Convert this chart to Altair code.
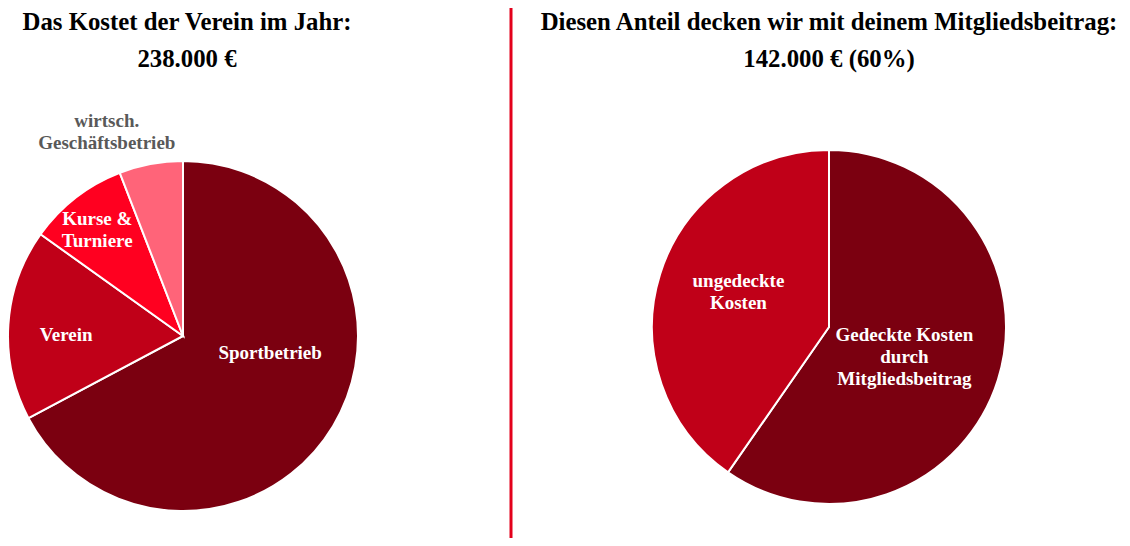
import altair as alt
import pandas as pd

# ---------------- data ----------------
left_categories = ["Sportbetrieb", "Verein", "Kurse & Turniere", "wirtsch. Geschäftsbetrieb"]
left_values = [160000, 42000, 22000, 14000]
left_labels = ["Sportbetrieb", "Verein", "Kurse &\nTurniere", "wirtsch.\nGeschäftsbetrieb"]

right_categories = ["Gedeckte Kosten", "ungedeckte Kosten"]
right_values = [142000, 96000]
right_labels = ["Gedeckte Kosten\ndurch\nMitgliedsbeitrag", "ungedeckte\nKosten"]

left_title = ["Das Kostet der Verein im Jahr:", "238.000 €"]
right_title = ["Diesen Anteil decken wir mit deinem Mitgliedsbeitrag:", "142.000 € (60%)"]

# ---------------- styles ----------------
W, H = 1114, 530
FONT = "Liberation Serif"
left_colors = ["#7B0010", "#C00018", "#FF0020", "#FF6479"]
right_colors = ["#7B0010", "#C00018"]
LCX, LCY, LR = 175, 328, 175
RCX, RCY, RR = 821, 319, 177

# label placement: radius, dx, dy, colour
left_label_style = [(90, 10, -29, "white"), (117, 0, 7, "white"),
                    (135, -3, -10, "white"), (208, -38, -11, "#595959")]
right_label_style = [(79, 0, -16, "white"), (97, 2, -17, "white")]

left_df = pd.DataFrame({"cat": left_categories, "val": left_values,
                        "label": left_labels, "idx": list(range(len(left_categories)))})
right_df = pd.DataFrame({"cat": right_categories, "val": right_values,
                         "label": right_labels, "idx": list(range(len(right_categories)))})


def pie(df, colors, cx, cy, r):
    return alt.Chart(df).mark_arc(outerRadius=r, stroke="white", strokeWidth=2).encode(
        theta=alt.Theta("val:Q", stack=True),
        color=alt.Color("cat:N", scale=alt.Scale(domain=list(df["cat"]), range=colors), legend=None),
        order=alt.Order("idx:Q"),
        x=alt.value(cx), y=alt.value(cy),
    )


def labels(df, styles, cx, cy):
    layers = []
    for i, (rad, dx, dy, col) in enumerate(styles):
        cat = df["cat"][i]
        layers.append(
            alt.Chart(df).transform_calculate(
                t=f"datum.cat === {cat!r} ? datum.label : ''"
            ).mark_text(radius=rad, dx=dx, dy=dy, font=FONT, fontWeight="bold", fontSize=19,
                        color=col, lineBreak="\n", lineHeight=22, align="center", baseline="middle").encode(
                theta=alt.Theta("val:Q", stack=True),
                order=alt.Order("idx:Q"),
                text="t:N",
                x=alt.value(cx), y=alt.value(cy),
            )
        )
    return layers


def title(lines, cx):
    d = pd.DataFrame({"t": ["\n".join(lines)]})
    return alt.Chart(d).mark_text(font=FONT, fontWeight="bold", fontSize=24.8, color="black",
                                  lineBreak="\n", lineHeight=37, align="center",
                                  baseline="middle").encode(
        text="t:N", x=alt.value(cx), y=alt.value(15))


sep = alt.Chart(pd.DataFrame({"a": [0]})).mark_rule(color="#E3001B", strokeWidth=3).encode(
    x=alt.value(503), y=alt.value(0), y2=alt.value(H))

chart = alt.layer(
    pie(left_df, left_colors, LCX, LCY, LR),
    pie(right_df, right_colors, RCX, RCY, RR),
    *labels(left_df, left_label_style, LCX, LCY),
    *labels(right_df, right_label_style, RCX, RCY),
    title(left_title, 179),
    title(right_title, RCX),
    sep,
).resolve_scale(color="independent", theta="independent").properties(
    width=W, height=H, padding=0, autosize=alt.AutoSizeParams(type="none")
).configure_view(stroke=None)

chart.save("out.html", embed_options={"renderer": "svg", "actions": False})
